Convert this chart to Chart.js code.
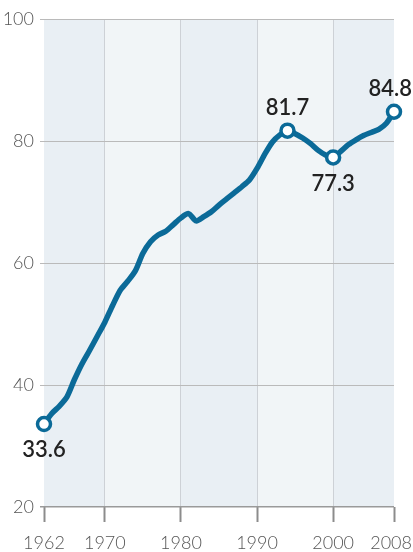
<!DOCTYPE html>
<html>
<head>
<meta charset="utf-8">
<script src="https://cdn.jsdelivr.net/npm/chart.js@4"></script>
<style>
  html, body { margin: 0; padding: 0; background: #fff; }
  #wrap { width: 413px; height: 552px; }
</style>
</head>
<body>
<div id="wrap"><canvas id="c" width="413" height="552"></canvas></div>
<script>
/* data */
const years = [1962, 1963, 1964, 1965, 1966, 1967, 1968, 1969, 1970, 1971,
               1972, 1973, 1974, 1975, 1976, 1977, 1978, 1979, 1980, 1981,
               1982, 1983, 1984, 1985, 1986, 1987, 1988, 1989, 1990, 1991,
               1992, 1993, 1994, 1995, 1996, 1997, 1998, 1999, 2000, 2001,
               2002, 2003, 2004, 2005, 2006, 2007, 2008];
const values = [33.6, 35.3, 36.5, 38.0, 40.9, 43.5, 45.7, 48.0, 50.3, 53.0,
                55.5, 57.0, 58.7, 61.6, 63.5, 64.6, 65.2, 66.3, 67.4, 68.1,
                66.9, 67.6, 68.4, 69.5, 70.5, 71.5, 72.5, 73.6, 75.5, 77.8,
                79.8, 81.0, 81.7, 81.2, 80.5, 79.6, 78.5, 77.7, 77.3, 78.3,
                79.4, 80.2, 80.9, 81.4, 81.9, 82.9, 84.8];
const xTicks = [1962, 1970, 1980, 1990, 2000, 2008];
const yTicks = [20, 40, 60, 80, 100];
const labelYears = [1962, 1994, 2000, 2008];
const labelBelow = [true, false, true, false];

const BLUE = '#0b6a98';
const BAND_DARK = '#e9eff4';
const BAND_LIGHT = '#f1f5f7';

// alternating decade bands behind the grid
const bands = {
    id: 'bands',
    beforeDraw(chart) {
        const { ctx, chartArea: a, scales: { x } } = chart;
        ctx.save();
        for (let i = 0; i < xTicks.length - 1; i++) {
            const x0 = x.getPixelForValue(xTicks[i]);
            const x1 = x.getPixelForValue(xTicks[i + 1]);
            ctx.fillStyle = i % 2 == 0 ? BAND_DARK : BAND_LIGHT;
            ctx.fillRect(x0, a.top, x1 - x0, a.bottom - a.top);
        }
        ctx.restore();
    }
};

// x labels drawn by hand so the last one stays inside the canvas
const xLabels = {
    id: 'xLabels',
    afterDraw(chart) {
        const { ctx, chartArea: a, scales: { x } } = chart;
        ctx.save();
        ctx.font = '300 18px Lato';
        ctx.fillStyle = '#555';
        ctx.textAlign = 'center';
        ctx.textBaseline = 'middle';
        xTicks.forEach(v => {
            const t = String(v);
            const w = ctx.measureText(t).width;
            let px = x.getPixelForValue(v);
            px = Math.min(px, chart.width - w / 2 - 1);
            px = Math.max(px, w / 2 + 1);
            ctx.fillText(t, px, a.bottom + 36);
        });
        ctx.restore();
    }
};

// value labels on the marked points
const pointLabels = {
    id: 'pointLabels',
    afterDatasetsDraw(chart) {
        const { ctx, scales: { x, y } } = chart;
        ctx.save();
        ctx.font = '600 22px Lato';
        ctx.fillStyle = '#222';
        ctx.textAlign = 'center';
        ctx.textBaseline = 'middle';
        labelYears.forEach((yr, i) => {
            const v = values[years.indexOf(yr)];
            const t = v.toFixed(1);
            const w = ctx.measureText(t).width;
            let px = x.getPixelForValue(yr);
            px = Math.min(px, chart.width - w / 2 - 1);
            const py = y.getPixelForValue(v) + (labelBelow[i] ? 26 : -23);
            ctx.fillText(t, px, py);
        });
        ctx.restore();
    }
};

const ctx = document.getElementById('c').getContext('2d');
const chart = new Chart(ctx, {
    type: 'line',
    data: {
        datasets: [{
            data: years.map((yr, i) => ({ x: yr, y: values[i] })),
            borderColor: BLUE,
            borderWidth: 5.5,
            fill: false,
            clip: false,
            tension: 0.25,
            pointRadius: ctx => labelYears.includes(years[ctx.dataIndex]) ? 6.5 : 0,
            pointBorderWidth: 3.5,
            pointBackgroundColor: '#fff',
            pointBorderColor: BLUE,
            pointHoverRadius: 0
        }]
    },
    options: {
        responsive: false,
        animation: false,
        events: [],
        layout: { padding: { top: 19, right: 19, left: 0, bottom: 0 } },
        plugins: { legend: { display: false }, tooltip: { enabled: false } },
        scales: {
            x: {
                type: 'linear',
                min: 1962,
                max: 2008,
                afterBuildTicks: s => { s.ticks = xTicks.map(v => ({ value: v })); },
                afterFit: s => { s.height = 45; s.paddingLeft = 0; s.paddingRight = 0; },
                border: { display: false },
                grid: {
                    color: c => (c.tick && (c.tick.value == 1962 || c.tick.value == 2008)) ? 'rgba(0,0,0,0)' : '#cdd1d6',
                    lineWidth: 1,
                    drawTicks: true,
                    tickLength: 15,
                    tickColor: '#8c8c8c',
                    tickWidth: 2
                },
                ticks: { display: false }
            },
            y: {
                min: 20,
                max: 100,
                afterBuildTicks: s => { s.ticks = yTicks.map(v => ({ value: v })); },
                afterFit: s => { s.width = 44; },
                border: { display: false },
                grid: {
                    color: c => (c.tick && c.tick.value == 20) ? '#9a9a9a' : '#bababa',
                    lineWidth: c => (c.tick && c.tick.value == 20) ? 1.5 : 1,
                    tickLength: 4
                },
                ticks: {
                    padding: 6,
                    color: '#555',
                    font: { family: 'Lato', size: 18, weight: 300 }
                }
            }
        }
    },
    plugins: [bands, xLabels, pointLabels]
});
</script>
</body>
</html>
